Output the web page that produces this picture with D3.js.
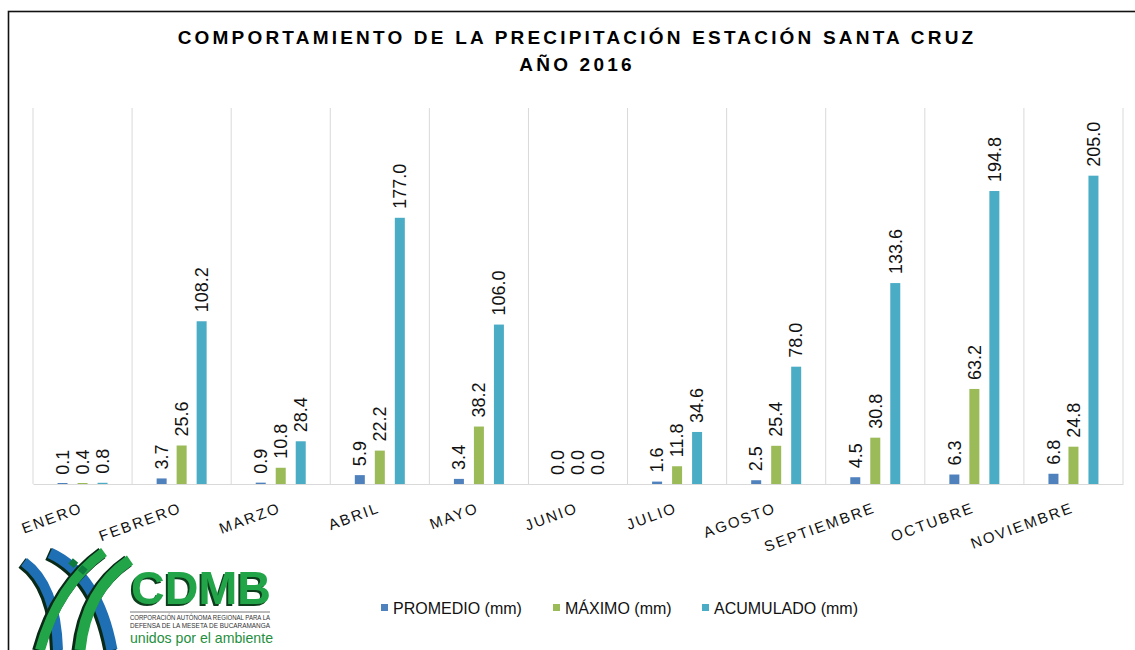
<!DOCTYPE html>
<html>
<head>
<meta charset="utf-8">
<script src="https://cdn.jsdelivr.net/npm/d3@7"></script>
<style>
  body { margin: 0; background: #fff; }
  svg { display: block; font-family: Arial, "Liberation Sans", sans-serif; }
</style>
</head>
<body>
<svg id="chart" width="1135" height="650"></svg>
<script>
var months = ["ENERO", "FEBRERO", "MARZO", "ABRIL", "MAYO", "JUNIO", "JULIO", "AGOSTO", "SEPTIEMBRE", "OCTUBRE", "NOVIEMBRE"];
var promedio = [0.1, 3.7, 0.9, 5.9, 3.4, 0.0, 1.6, 2.5, 4.5, 6.3, 6.8];
var maximo = [0.4, 25.6, 10.8, 22.2, 38.2, 0.0, 11.8, 25.4, 30.8, 63.2, 24.8];
var acumulado = [0.8, 108.2, 28.4, 177.0, 106.0, 0.0, 34.6, 78.0, 133.6, 194.8, 205.0];
var seriesNames = ["PROMEDIO (mm)", "MÁXIMO (mm)", "ACUMULADO (mm)"];
var colors = ["#4f81bd", "#9bbb59", "#4bacc6"];

var svg = d3.select("#chart");

// drop shadow for the logo lettering
var defs = svg.append("defs");
defs.append("filter").attr("id", "shadow")
  .attr("x", "-10%").attr("y", "-10%").attr("width", "130%").attr("height", "130%")
  .append("feDropShadow")
  .attr("dx", -2).attr("dy", 2).attr("stdDeviation", 0.4)
  .attr("flood-color", "#0a3d1e").attr("flood-opacity", 1);

// outer frame (runs off the right and bottom like the original)
svg.append("rect")
  .attr("x", 8.5).attr("y", 11.5)
  .attr("width", 1140).attr("height", 660)
  .attr("fill", "none").attr("stroke", "#111").attr("stroke-width", 1.6);

// title
svg.append("text")
  .attr("x", 577).attr("y", 44)
  .attr("text-anchor", "middle")
  .style("font-size", "19px").style("font-weight", "bold")
  .style("letter-spacing", "3.2px")
  .text("COMPORTAMIENTO DE LA PRECIPITACIÓN ESTACIÓN SANTA CRUZ");
svg.append("text")
  .attr("x", 577).attr("y", 71)
  .attr("text-anchor", "middle")
  .style("font-size", "19px").style("font-weight", "bold")
  .style("letter-spacing", "3.2px")
  .text("AÑO 2016");

var plotLeft = 33, plotRight = 1123, plotTop = 108, base = 484;

var x0 = d3.scaleBand().domain(months).range([plotLeft, plotRight]).padding(0);
var bw = x0.bandwidth();
var x1 = d3.scaleBand().domain(seriesNames)
  .range([bw / 2 - 30, bw / 2 + 30])
  .paddingInner(0.5).paddingOuter(0.25);
var y = d3.scaleLinear().domain([0, 250]).range([base, plotTop]);

// vertical gridlines at category boundaries
var bounds = months.map(function(m) { return x0(m); }).concat([plotRight]);
svg.append("g").selectAll("line").data(bounds).join("line")
  .attr("x1", function(d) { return d; }).attr("x2", function(d) { return d; })
  .attr("y1", plotTop).attr("y2", base)
  .attr("stroke", "#d9d9d9").attr("stroke-width", 1);

// baseline axis
var xAxis = svg.append("g")
  .attr("transform", "translate(0," + base + ")")
  .call(d3.axisBottom(x0).tickSize(0).tickFormat(""));
xAxis.select(".domain").attr("stroke", "#d9d9d9");

// month labels
svg.append("g").selectAll("text").data(months).join("text")
  .attr("transform", function(d) { return "translate(" + (x0(d) + bw / 2 + 1) + "," + (base + 28) + ") rotate(-20)"; })
  .attr("text-anchor", "end")
  .style("font-size", "15px").style("letter-spacing", "2px")
  .attr("fill", "#111")
  .text(function(d) { return d; });

// bars + labels
var seriesData = [promedio, maximo, acumulado];
seriesData.forEach(function(vals, si) {
  var g = svg.append("g");
  var rows = months.map(function(m, i) { return { m: m, v: vals[i] }; });
  g.selectAll("rect").data(rows.filter(function(d) { return d.v > 0; })).join("rect")
    .attr("x", function(d) { return x0(d.m) + x1(seriesNames[si]); })
    .attr("width", x1.bandwidth())
    .attr("y", function(d) { return Math.min(y(d.v), base - 1); })
    .attr("height", function(d) { return Math.max(1, base - y(d.v)); })
    .attr("fill", colors[si]);
  g.selectAll("text").data(rows).join("text")
    .attr("transform", function(d) {
      var cx = x0(d.m) + x1(seriesNames[si]) + x1.bandwidth() / 2;
      return "translate(" + cx + "," + (y(d.v) - 9) + ") rotate(-90)";
    })
    .attr("dy", "0.35em")
    .style("font-size", "18px")
    .attr("fill", "#111")
    .text(function(d) { return d.v.toFixed(1); });
});

// legend
var legendX = [381, 553, 702];
var legend = svg.append("g").selectAll("g").data(seriesNames).join("g")
  .attr("transform", function(d, i) { return "translate(" + legendX[i] + ",604)"; });
legend.append("rect").attr("width", 7).attr("height", 7)
  .attr("fill", function(d, i) { return colors[i]; });
legend.append("text").attr("x", 12).attr("y", 10)
  .style("font-size", "16px").attr("fill", "#111")
  .text(function(d) { return d; });

// CDMB logo, rough drawing
var logo = svg.append("g");
var bands = [
  { d: "M24,562 Q56,585 58,650", c: "#1f6fb5", w: 10 },
  { d: "M50,553 Q98,575 112,650", c: "#1f6fb5", w: 11 },
  { d: "M130,560 Q86,590 80,650", c: "#22a448", w: 11 },
  { d: "M104,552 Q58,585 40,650", c: "#22a448", w: 10 }
];
bands.forEach(function(b) {
  logo.append("path").attr("d", b.d).attr("fill", "none")
    .attr("stroke", "#0a2a18").attr("stroke-width", b.w + 2)
    .attr("transform", "translate(-2,1)");
  logo.append("path").attr("d", b.d).attr("fill", "none")
    .attr("stroke", b.c).attr("stroke-width", b.w);
});
logo.append("rect").attr("x", 70).attr("y", 560).attr("width", 7).attr("height", 7)
  .attr("fill", "#0e7a3c").attr("transform", "rotate(40,74,563)");
logo.append("rect").attr("x", 79).attr("y", 566).attr("width", 7).attr("height", 7)
  .attr("fill", "#0e7a3c").attr("transform", "rotate(40,82,570)");

logo.append("text").attr("x", 131).attr("y", 604)
  .attr("textLength", 140).attr("lengthAdjust", "spacingAndGlyphs")
  .style("font-size", "46px").style("font-weight", "bold")
  .attr("fill", "#22a448").attr("filter", "url(#shadow)").text("CDMB");
logo.append("line").attr("x1", 130).attr("x2", 270).attr("y1", 612).attr("y2", 612)
  .attr("stroke", "#777").attr("stroke-width", 1);
logo.append("text").attr("x", 130).attr("y", 620)
  .attr("textLength", 140).attr("lengthAdjust", "spacingAndGlyphs")
  .style("font-size", "6.5px").attr("fill", "#333")
  .text("CORPORACIÓN AUTÓNOMA REGIONAL PARA LA");
logo.append("text").attr("x", 130).attr("y", 627.5)
  .attr("textLength", 140).attr("lengthAdjust", "spacingAndGlyphs")
  .style("font-size", "6.5px").attr("fill", "#333")
  .text("DEFENSA DE LA MESETA DE BUCARAMANGA");
logo.append("text").attr("x", 130).attr("y", 643)
  .attr("textLength", 143).attr("lengthAdjust", "spacingAndGlyphs")
  .style("font-size", "15px").attr("fill", "#1f8f3e")
  .text("unidos por el ambiente");
</script>
</body>
</html>
